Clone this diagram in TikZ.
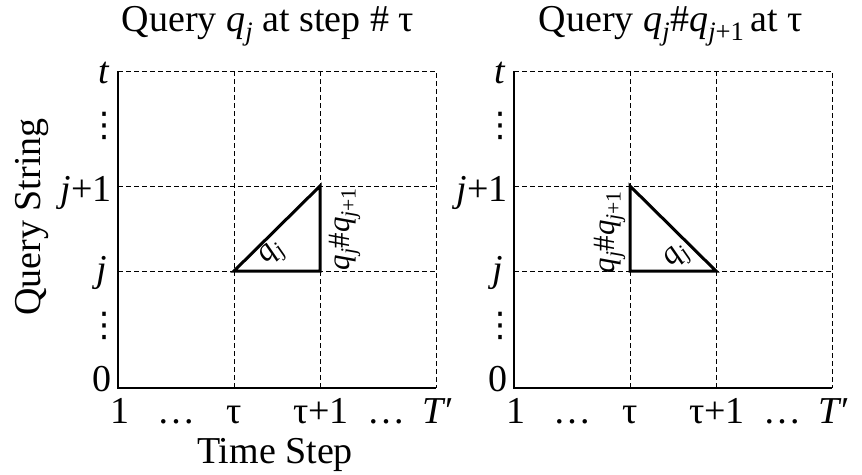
\documentclass[tikz,border=0pt]{standalone}
\usepackage{fontspec}
\setmainfont{Liberation Serif}
\newfontfamily\dotsfont{DejaVu Sans}
\usetikzlibrary{positioning}
\newcommand{\qsub}[1]{\textit{q}\textsubscript{#1}}
\newcommand{\bigfont}{\fontsize{38}{40}\selectfont}
\newcommand{\titlefont}{\fontsize{38}{40}\selectfont}
\newcommand{\labfont}{\fontsize{31}{33}\selectfont}
\begin{document}
\begin{tikzpicture}[x=1pt, y=-1pt,
  every node/.style={inner sep=0pt, font=\bigfont},
  gridline/.style={dash pattern=on 5pt off 3pt, line width=0.8pt},
  axisline/.style={line width=1.1pt},
  triline/.style={line width=3pt, line join=miter, line cap=rect},
  trilabel/.style={font=\labfont},
  vdotsnode/.style={font=\dotsfont\fontsize{34}{36}\selectfont}]

  \useasboundingbox (0,0) rectangle (862,474);

  %both panels: grid, axes and tick labels
  \foreach \px/\pn in {118/L, 514/R}{
  \begin{scope}[xshift=\px]
    %dashed grid
    \draw[gridline] (0,71) -- (318,71) -- (318,388);
    \draw[gridline] (116,71) -- (116,388);
    \draw[gridline] (202,71) -- (202,388);
    \draw[gridline] (0,186) -- (318,186);
    \draw[gridline] (0,271) -- (318,271);
    %axes
    \draw[axisline] (0,71) -- (0,388) -- (318,388);

    %y labels
    \node[anchor=base east] (\pn-t) at (-8,83) {\textit{t}};
    \node[vdotsnode] (\pn-vd1) at (-14,126) {⋮};
    \node[anchor=base east] (\pn-j1) at (-6,201) {\textit{j}+1};
    \node[anchor=base east] (\pn-j) at (-11,281) {\textit{j}};
    \node[vdotsnode] (\pn-vd2) at (-14,326) {⋮};
    \node[anchor=base east] (\pn-zero) at (-6,391) {0};

    %x labels
    \node[anchor=base] (\pn-one) at (2,423) {1};
    \node[anchor=base] (\pn-dots1) at (58,423) {\ldots};
    \node[anchor=base] (\pn-tau) at (116,423) {τ};
    \node[anchor=base] (\pn-tau1) at (203,423) {τ+1};
    \node[anchor=base] (\pn-dots2) at (268,423) {\ldots};
    \node[anchor=base] (\pn-T) at (320,423) {\textit{T}′};
  \end{scope}
  }

  %axis titles
  \node[rotate=90] (ylab) at (32,217) {Query String};
  \node[anchor=base] (xlab) at (275,463) {Time Step};

  %panel titles
  \node[anchor=base, font=\titlefont] (titleL) at (268,31)
    {Query \qsub{\textit{j}} at step \# τ};
  \node[anchor=base, font=\titlefont] (titleR) at (671,31)
    {Query \qsub{\textit{j}}\#\qsub{\textit{j}+1}\,at τ};

  %left triangle
  \coordinate (La) at (234,271);
  \coordinate (Lb) at (320,271);
  \coordinate (Lc) at (320,186);
  \draw[triline] (La) -- (Lb) -- (Lc) -- cycle;
  \node[trilabel, rotate=45] (Lq) at (273,254) {\qsub{\textit{j}}};
  \node[trilabel, rotate=90] (Lqq) at (345,229) {\qsub{\textit{j}}\#\qsub{\textit{j}+1}};

  %right triangle
  \coordinate (Ra) at (630,271);
  \coordinate (Rb) at (716,271);
  \coordinate (Rc) at (630,186);
  \draw[triline] (Ra) -- (Rb) -- (Rc) -- cycle;
  \node[trilabel, rotate=45] (Rq) at (678,257) {\qsub{\textit{j}}};
  \node[trilabel, rotate=90] (Rqq) at (610,232) {\qsub{\textit{j}}\#\qsub{\textit{j}+1}};
\end{tikzpicture}
\end{document}
